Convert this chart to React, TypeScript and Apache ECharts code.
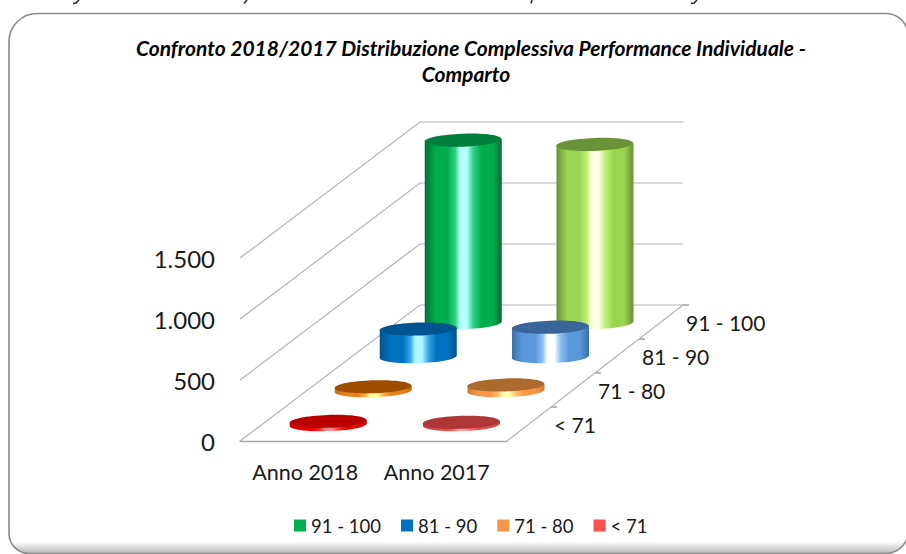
import React, { useEffect, useRef } from "react";
import * as echarts from "echarts";

const categories = ["Anno 2018", "Anno 2017"];
const depthLabels = ["< 71", "71 - 80", "81 - 90", "91 - 100"];
const yTicks = [0, 500, 1000, 1500];
const seriesNames = ["91 - 100", "81 - 90", "71 - 80", "< 71"];
const values91to100 = [1490, 1455];
const values81to90 = [220, 235];
const values71to80 = [25, 40];
const valuesBelow71 = [20, 12];

const FONT = "Lato, Carlito, 'Open Sans', sans-serif";
const DEPTH_DY = 136;
const DEPTH_DX_LEFT = 180;
const DEPTH_DX_RIGHT = 176;
const RADIUS = 38.5;
const RY = 6.5;
const CATEGORY_LABEL_PADDING = [3, 7];

type Look = { top: string; edge: string; base: string; mid: string; glow: string };
const looks: Look[][] = [
  [
    { top: "#007e3b", edge: "#006f35", base: "#00ad4e", mid: "#2fd27f", glow: "#b4ffff" },
    { top: "#6a9339", edge: "#6a8f38", base: "#9ad552", mid: "#c0ef78", glow: "#ffffe6" },
  ],
  [
    { top: "#00548f", edge: "#00528c", base: "#0070c0", mid: "#37a6e6", glow: "#aef6ff" },
    { top: "#3a6598", edge: "#3d6ea8", base: "#5a98dc", mid: "#8cc0f4", glow: "#ffffff" },
  ],
  [
    { top: "#9f4c00", edge: "#c06a10", base: "#e8801a", mid: "#ffb040", glow: "#ffff9a" },
    { top: "#ac6a2e", edge: "#c87c35", base: "#f79646", mid: "#ffc070", glow: "#ffffb0" },
  ],
  [
    { top: "#b80000", edge: "#c80000", base: "#e80000", mid: "#ff3030", glow: "#ff9090" },
    { top: "#ae3637", edge: "#bf4040", base: "#e04c4c", mid: "#ff6060", glow: "#ffa0a0" },
  ],
];
const legendColors = ["#00b050", "#0070c0", "#f79646", "#ff5050"];

function project(params: any, api: any, catIdx: number, depth: number, value: number) {
  const cs = params.coordSys;
  const front = api.coord([catIdx, value]);
  const frac = (front[0] - cs.x) / cs.width;
  const dx = DEPTH_DX_LEFT + (DEPTH_DX_RIGHT - DEPTH_DX_LEFT) * frac;
  return [front[0] + dx * depth, front[1] - DEPTH_DY * depth];
}

function cylinderSeries(name: string, seriesIdx: number, values: number[]) {
  const depthIdx = 3 - seriesIdx;
  return {
    type: "custom",
    name,
    coordinateSystem: "cartesian2d",
    itemStyle: { color: legendColors[seriesIdx] },
    encode: { x: 0, y: 1 },
    data: values.map((v, i) => [i, v]),
    z: 5 + seriesIdx,
    renderItem(params: any, api: any) {
      const cat = api.value(0);
      const val = api.value(1);
      const depth = (depthIdx + 0.5) / 4;
      const b = project(params, api, cat, depth, 0);
      const t = project(params, api, cat, depth, val);
      const look = looks[seriesIdx][cat];
      const cx = b[0] - 1 + depth;
      const l = cx - RADIUS;
      const r = cx + RADIUS;
      const tilt = 1.3;
      const d = `M${l} ${t[1] + tilt}L${l} ${b[1] + tilt}A${RADIUS} ${RY} -2 0 0 ${r} ${b[1] - tilt}L${r} ${t[1] - tilt}Z`;
      return {
        type: "group",
        children: [
          {
            type: "path",
            shape: { pathData: d },
            style: {
              fill: new echarts.graphic.LinearGradient(0, 0, 1, 0, [
                { offset: 0, color: look.edge },
                { offset: 0.14, color: look.base },
                { offset: 0.3, color: look.base },
                { offset: 0.4, color: look.mid },
                { offset: 0.46, color: look.glow },
                { offset: 0.55, color: look.glow },
                { offset: 0.63, color: look.mid },
                { offset: 0.74, color: look.base },
                { offset: 0.88, color: look.base },
                { offset: 1, color: look.edge },
              ]),
            },
          },
          {
            type: "ellipse",
            shape: { cx, cy: t[1], rx: RADIUS, ry: RY },
            rotation: 0.034,
            originX: cx,
            originY: t[1],
            style: { fill: look.top },
          },
        ],
      };
    },
  };
}

const GRID_LINE = { stroke: "#b4b4b4", lineWidth: 1.2 };

const wallSeries = {
  type: "custom",
  name: "wall",
  coordinateSystem: "cartesian2d",
  encode: { y: 0 },
  data: yTicks.map((t) => [t]),
  silent: true,
  z: 1,
  renderItem(params: any, api: any) {
    const cs = params.coordSys;
    const y = api.coord([0, api.value(0)])[1];
    const x0 = cs.x;
    const y1 = y - DEPTH_DY;
    const x1 = x0 + DEPTH_DX_LEFT;
    const x2 = cs.x + cs.width + DEPTH_DX_RIGHT;
    return {
      type: "polyline",
      shape: { points: [[x0, y], [x1, y1], [x2, y1]] },
      style: { ...GRID_LINE, fill: "none" },
    };
  },
};

const depthAxisSeries = {
  type: "custom",
  name: "depth",
  coordinateSystem: "cartesian2d",
  encode: { y: 0 },
  data: depthLabels.map((_, i) => [i]),
  silent: true,
  z: 2,
  renderItem(params: any, api: any) {
    const cs = params.coordSys;
    const i = api.value(0);
    const y0 = cs.y + cs.height;
    const xr = cs.x + cs.width;
    const pt = (d: number) => [xr + DEPTH_DX_RIGHT * d, y0 - DEPTH_DY * d];
    const a = pt(i / 4);
    const b = pt((i + 1) / 4);
    const m = pt((i + 0.5) / 4);
    const tick = {
      type: "line",
      shape: { x1: b[0], y1: b[1], x2: b[0] + 6, y2: b[1] },
      style: { stroke: "#9a9a9a", lineWidth: 1.4 },
    };
    return {
      type: "group",
      children: [
        { type: "line", shape: { x1: a[0], y1: a[1], x2: b[0], y2: b[1] }, style: GRID_LINE },
        tick,
        {
          type: "text",
          x: m[0] + 25,
          y: m[1] + 0.5,
          style: {
            text: depthLabels[i],
            fill: "#1a1a1a",
            font: `21px ${FONT}`,
            textAlign: "left",
            textVerticalAlign: "middle",
          },
        },
      ],
    };
  },
};

const tails = [
  [[79, 0], [76, 3], [73, 3.5]],
  [[247, 0], [244, 3.5]],
  [[697, 0], [694, 3], [691, 3.5]],
  [[532, 0], [531, 3.5]],
];

const titleLine = {
  fontFamily: FONT,
  fontStyle: "italic",
  fontWeight: "bold",
  fontSize: 21,
  lineHeight: 26,
  color: "#000000",
};

function App() {
  const ref = useRef<HTMLDivElement>(null);
  useEffect(() => {
    const chart = echarts.init(ref.current!, undefined, { renderer: "svg" });
    chart.setOption({
      animation: false,
      backgroundColor: "#ffffff",
      title: {
        text: "{a|Confronto 2018/2017 Distribuzione Complessiva Performance Individuale -}\n{b|Comparto}",
        left: 466,
        top: 29,
        textAlign: "center",
        textStyle: {
          ...titleLine,
          rich: {
            a: { ...titleLine },
            b: { ...titleLine, padding: [0, 10, 0, 0] },
          },
        },
      },
      grid: { left: 240, top: 258, width: 267, height: 183 },
      xAxis: {
        type: "category",
        data: categories.map((c, i) => ({
          value: c,
          textStyle: { padding: [0, CATEGORY_LABEL_PADDING[i], 0, 0] },
        })),
        axisTick: { show: false },
        axisLine: { lineStyle: { color: "#a8a8a8", width: 1.4 } },
        axisLabel: { color: "#1a1a1a", fontFamily: FONT, fontSize: 21.5, margin: 20, interval: 0, hideOverlap: false },
      },
      yAxis: {
        type: "value",
        min: 0,
        max: 1500,
        interval: 500,
        axisLine: { show: false },
        axisTick: { show: false },
        splitLine: { show: false },
        axisLabel: {
          color: "#1a1a1a",
          fontFamily: FONT,
          fontSize: 24,
          margin: 25,
          padding: [0, 0, 2, 0],
          formatter: (v: number) => (v >= 1000 ? `${Math.floor(v / 1000)}.${String(v % 1000).padStart(3, "0")}` : `${v}`),
        },
      },
      legend: {
        left: 289,
        top: 511,
        itemWidth: 12,
        itemHeight: 12,
        itemGap: 20,
        icon: "rect",
        selectedMode: false,
        data: seriesNames,
        textStyle: { fontFamily: FONT, fontSize: 18.5, color: "#1a1a1a" },
      },
      graphic: [
        {
          type: "rect",
          silent: true,
          z: -10,
          shape: { x: 9, y: 13.5, width: 899, height: 540, r: [28, 22, 22, 20] },
          style: {
            stroke: "#8a8a8a",
            lineWidth: 1.6,
            fill: new echarts.graphic.LinearGradient(0, 0, 0, 1, [
              { offset: 0, color: "#ffffff" },
              { offset: 0.978, color: "#ffffff" },
              { offset: 1, color: "#b8b8b8" },
            ]),
          },
        },
        ...tails.map((points) => ({
          type: "polyline",
          silent: true,
          shape: { points },
          style: { stroke: "#222222", lineWidth: 1.4, fill: "none" },
        })),
      ],
      series: [
        wallSeries,
        depthAxisSeries,
        cylinderSeries(seriesNames[0], 0, values91to100),
        cylinderSeries(seriesNames[1], 1, values81to90),
        cylinderSeries(seriesNames[2], 2, values71to80),
        cylinderSeries(seriesNames[3], 3, valuesBelow71),
      ],
    });
    return () => chart.dispose();
  }, []);
  return <div ref={ref} style={{ position: "absolute", left: 0, top: 0, width: 906, height: 554 }} />;
}

export default App;
